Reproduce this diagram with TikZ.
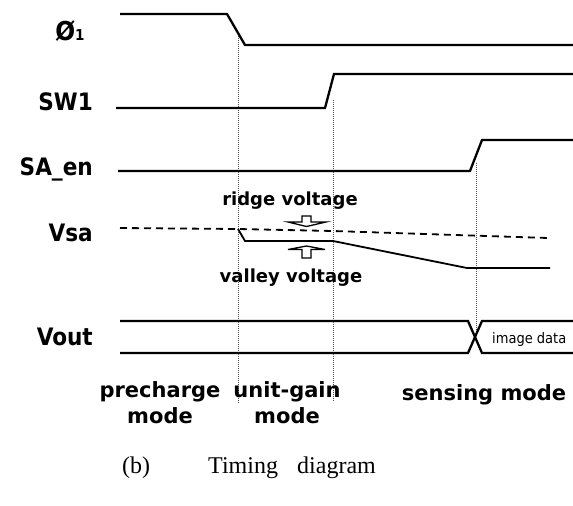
\documentclass[tikz,border=0pt]{standalone}
\usepackage{fontspec}
\newfontfamily\labf{DejaVu Sans Condensed}
\newfontfamily\midf{DejaVu Sans}
\newfontfamily\capf{Liberation Serif}
\tikzset{
  sig/.style={line width=2.3pt, line join=miter},
  dashsig/.style={line width=1.8pt, dash pattern=on 7pt off 5pt},
  guide/.style={line width=0.9pt, black!70, dash pattern=on 1pt off 1pt},
  lab/.style={anchor=base east, inner sep=0pt, font=\labf\bfseries\fontsize{24}{24}\selectfont},
  note/.style={anchor=base, inner sep=0pt, font=\midf\bfseries\fontsize{18}{18}\selectfont},
  modetxt/.style={anchor=base, inner sep=0pt, align=center, font=\midf\bfseries\fontsize{21}{26}\selectfont},
  hollow/.style={line width=1.3pt, fill=white, line join=miter},
  captxt/.style={inner sep=0pt, font=\capf\fontsize{24}{24}\selectfont},
}
\begin{document}
\begin{tikzpicture}[x=1pt,y=-1pt]
\useasboundingbox (0,0) rectangle (573,506);
% guide lines
\draw[guide] (238,36) -- (238,403);
\draw[guide] (333,100) -- (333,401);
\draw[guide] (476,163) -- (476,335);
% labels
\node[anchor=base, inner sep=0pt, font=\labf\bfseries\fontsize{26}{26}\selectfont] (lphi) at (70,40) {Ø{\fontsize{15}{15}\selectfont 1}};
\node[lab] (lsw) at (93,110) {SW1};
\node[lab] (lsa) at (93,175) {SA\_en};
\node[lab] (lvsa) at (93,241) {Vsa};
\node[lab] (lvout) at (93,345) {Vout};
% Phi1
\draw[sig] (120,14) -- (227,14) -- (245,45) -- (573,45);
% SW1
\draw[sig] (116,108) -- (325,108) -- (334,74) -- (573,74);
% SA_en
\draw[sig] (118,171) -- (470,171) -- (482,140) -- (573,140);
% Vsa
\draw[dashsig] (120,228) -- (238,229) -- (333,231) -- (548,238);
\draw[sig, line width=1.8pt] (238,229) -- (245,241) -- (333,241) -- (467,268) -- (550,268);
% hollow arrows
\draw[hollow] (302,216) -- (311,216) -- (311,222) -- (326,222) -- (306.5,226.5) -- (288,222) -- (302,222) -- cycle;
\draw[hollow] (306.5,246) -- (325,249.5) -- (311,249.5) -- (311,258) -- (302,258) -- (302,249.5) -- (288,249.5) -- cycle;
\node[note] (ridge) at (290,205) {ridge voltage};
\node[note] (valley) at (291,282) {valley voltage};
% Vout
\draw[sig] (120,321) -- (468,321) -- (482,353) -- (573,353);
\draw[sig] (120,353) -- (468,353) -- (482,321) -- (573,321);
\node[anchor=base west, inner sep=0pt, font=\labf\fontsize{14.5}{14.5}\selectfont] (img) at (492,343) {image data};
% modes
\node[modetxt] (pre) at (160,423) {precharge\\mode};
\node[modetxt] (unit) at (287,423) {unit-gain\\mode};
\node[modetxt, anchor=base] (sens) at (484,400) {sensing mode};
% caption
\node[captxt, anchor=base] (capb) at (136,473) {(b)};
\node[captxt, anchor=base west] (capt) at (208,473) {Timing\hspace{0.8em}diagram};
\end{tikzpicture}
\end{document}
